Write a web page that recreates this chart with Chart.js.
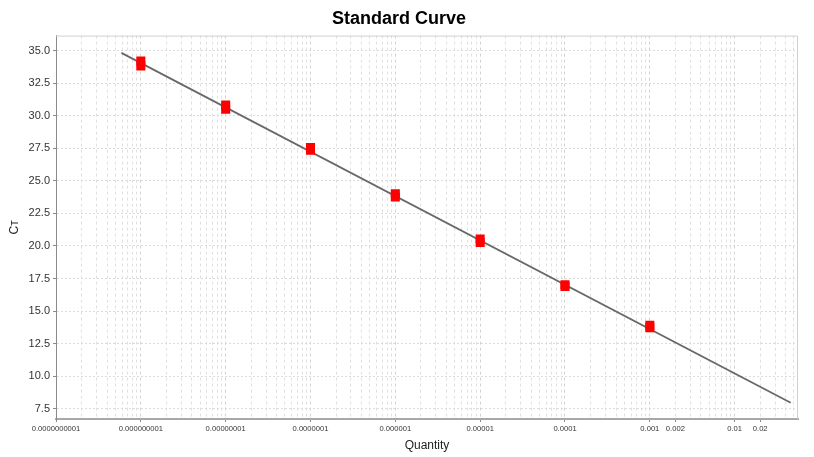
<!DOCTYPE html>
<html>
<head>
<meta charset="utf-8">
<script src="https://cdn.jsdelivr.net/npm/chart.js@4/dist/chart.umd.min.js"></script>
<style>
  html, body { margin: 0; padding: 0; background: #ffffff; }
  #wrap { width: 814px; height: 457px; position: relative; }
</style>
</head>
<body>
<div id="wrap"><canvas id="c"></canvas></div>
<script>
// ---- Data ----
const quantities = [1e-9, 1e-8, 1e-7, 1e-6, 1e-5, 1e-4, 1e-3];
const ctReplicate1 = [34.19, 30.82, 27.55, 24.00, 20.53, 17.02, 13.90];
const ctReplicate2 = [33.81, 30.49, 27.35, 23.75, 20.26, 16.88, 13.72];
const fitQuantity = [5.9e-10, 0.0458];
const fitCt = [34.82, 7.96];

// ---- Axis ticks ----
const xTickValues = [1e-10, 1e-9, 1e-8, 1e-7, 1e-6, 1e-5, 1e-4, 1e-3, 2e-3, 1e-2, 2e-2];
const xTickLabels = ['0.0000000001', '0.000000001', '0.00000001', '0.0000001', '0.000001',
                     '0.00001', '0.0001', '0.001', '0.002', '0.01', '0.02'];
const yTickValues = [7.5, 10.0, 12.5, 15.0, 17.5, 20.0, 22.5, 25.0, 27.5, 30.0, 32.5, 35.0];
const xMin = 1e-10, xMax = 0.0558;
const yMin = 6.71, yMax = 36.15;

// grid positions on the log axis (1..9 x 10^n)
const xGridValues = [];
for (let e = -10; e <= -2; e++) {
  for (let k = 1; k <= 9; k++) {
    const v = k * Math.pow(10, e);
    if (v <= xMax) xGridValues.push(v);
  }
}
function labelFor(v) {
  for (let i = 0; i < xTickValues.length; i++) {
    if (Math.abs(Math.log10(v) - Math.log10(xTickValues[i])) < 1e-6) return xTickLabels[i];
  }
  return '';
}
function isDecade(v) {
  const l = Math.log10(v);
  return Math.abs(l - Math.round(l)) < 1e-6;
}

const FONT = '"Liberation Sans", Arial, "DejaVu Sans", sans-serif';

const plotFrame = {
  id: 'plotFrame',
  beforeDatasetsDraw(chart) {
    const {ctx, chartArea: a} = chart;
    ctx.save();
    ctx.strokeStyle = '#d0d0d0';
    ctx.lineWidth = 1;
    ctx.beginPath();
    ctx.moveTo(a.left, a.top + 0.5);
    ctx.lineTo(a.right - 0.5, a.top + 0.5);
    ctx.lineTo(a.right - 0.5, a.bottom);
    ctx.stroke();
    ctx.restore();
  }
};

new Chart(document.getElementById('c'), {
  type: 'scatter',
  data: {
    datasets: [
      {
        label: 'Fit',
        data: fitQuantity.map((q, i) => ({x: q, y: fitCt[i]})),
        showLine: true,
        borderColor: '#686868',
        borderWidth: 1.8,
        pointRadius: 0,
        order: 2
      },
      {
        label: 'Replicate 1',
        data: quantities.map((q, i) => ({x: q, y: ctReplicate1[i]})),
        pointStyle: 'rect',
        pointRadius: 6.4,
        backgroundColor: '#ff0000',
        borderColor: '#ff0000',
        borderWidth: 0,
        order: 1
      },
      {
        label: 'Replicate 2',
        data: quantities.map((q, i) => ({x: q, y: ctReplicate2[i]})),
        pointStyle: 'rect',
        pointRadius: 6.4,
        backgroundColor: '#ff0000',
        borderColor: '#ff0000',
        borderWidth: 0,
        order: 1
      }
    ]
  },
  options: {
    responsive: true,
    maintainAspectRatio: false,
    animation: false,
    layout: { padding: { left: 0, right: 16, top: 0, bottom: 0 } },
    plugins: {
      legend: { display: false },
      tooltip: { enabled: false },
      title: {
        display: true,
        text: 'Standard Curve',
        color: '#000000',
        font: { family: FONT, size: 18, weight: 'bold', lineHeight: 1.2 },
        padding: { top: 8, bottom: 6 }
      }
    },
    scales: {
      x: {
        type: 'logarithmic',
        min: xMin,
        max: xMax,
        afterBuildTicks(scale) {
          scale.ticks = xGridValues.map(v => ({value: v, major: isDecade(v)}));
        },
        afterFit(scale) { scale.height = 38; },
        ticks: {
          autoSkip: false,
          maxRotation: 0,
          minRotation: 0,
          padding: 2,
          color: '#333333',
          font: { family: FONT, size: 7.6 },
          callback: (v) => labelFor(v)
        },
        grid: {
          color: (c) => (c.tick && isDecade(c.tick.value)) ? '#d2d2d2' : '#e0e0e0',
          lineWidth: 1,
          tickLength: 3,
          tickColor: (c) => (c.tick && labelFor(c.tick.value) !== '') ? '#8a8a8a' : 'rgba(0,0,0,0)',
          tickBorderDash: []
        },
        border: { display: true, color: '#a8a8a8', width: 2, dash: [3, 3] },
        title: {
          display: true,
          text: 'Quantity',
          color: '#222222',
          font: { family: FONT, size: 12 },
          padding: { top: 0, bottom: 4 }
        }
      },
      y: {
        type: 'linear',
        min: yMin,
        max: yMax,
        afterBuildTicks(scale) {
          scale.ticks = yTickValues.map(v => ({value: v}));
        },
        afterFit(scale) { scale.width = 56; },
        ticks: {
          autoSkip: false,
          padding: 3,
          color: '#333333',
          font: { family: FONT, size: 11 },
          callback: (v) => Number(v).toFixed(1)
        },
        grid: {
          color: '#dcdcdc',
          lineWidth: 1,
          tickLength: 3,
          tickColor: '#8a8a8a',
          tickBorderDash: []
        },
        border: { display: true, color: '#8a8a8a', width: 1, dash: [2, 2] },
        title: {
          display: true,
          text: 'Cᴛ',
          color: '#222222',
          font: { family: FONT, size: 12 },
          padding: { top: 7, bottom: 0 }
        }
      }
    }
  },
  plugins: [plotFrame]
});
</script>
</body>
</html>
